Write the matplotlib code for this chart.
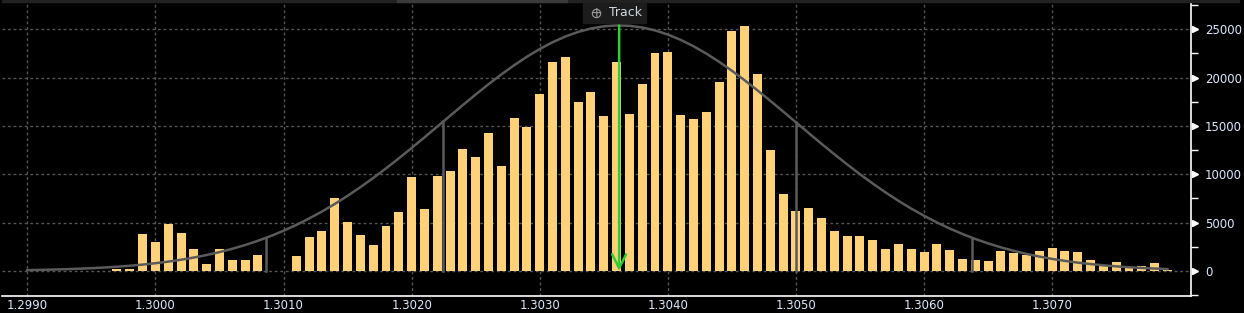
import matplotlib
matplotlib.use("Agg")
import matplotlib.pyplot as plt
import matplotlib.transforms as mtransforms
from matplotlib.patches import Rectangle
import numpy as np

# histogram bins (centres) and counts
bin_centers = np.round(np.arange(1.2990, 1.30795, 0.0001), 4)
counts = [
    50, 50, 40, 50, 50, 50, 50, 200, 200, 3830,
    3000, 4860, 3930, 2280, 725, 2280, 1140, 1140, 1660, 30,
    30, 1550, 3520, 4140, 7550, 5070, 3720, 2690, 4650, 6100,
    9720, 6410, 9820, 10340, 12620, 11790, 14270, 10860, 15820, 14890,
    18300, 21610, 22130, 17480, 18510, 16030, 21610, 16240, 19340, 22540,
    22650, 16130, 15720, 16440, 19540, 24820, 25340, 20370, 12510, 7960,
    6200, 6510, 5480, 4140, 3620, 3620, 3210, 2280, 2790, 2280,
    1970, 2790, 2170, 1240, 1140, 1035, 2070, 1860, 1660, 2070,
    2380, 2070, 1970, 1140, 600, 930, 450, 520, 830, 100,
]

# fitted normal overlay
fit_mean = 1.30362
fit_sigma = 0.0013775
fit_peak = 25400
sigma_marks = [-2, -1, 1, 2]

x_ticks = [1.2990, 1.3000, 1.3010, 1.3020, 1.3030, 1.3040, 1.3050, 1.3060, 1.3070]
y_ticks = [0, 5000, 10000, 15000, 20000, 25000]

bar_color = "#ffd27a"
curve_color = "#5a5a5a"
grid_color = "#555555"
label_color = "#dce8ff"


def fit_curve(x):
    return fit_peak * np.exp(-0.5 * ((np.asarray(x) - fit_mean) / fit_sigma) ** 2)


fig = plt.figure(figsize=(12.44, 3.13), dpi=100, facecolor="black")
ax = fig.add_axes([2 / 1244, 17 / 313, 1189 / 1244, 294 / 313])
ax.set_facecolor("black")

ax.bar(bin_centers, counts, width=0.00007, color=bar_color, zorder=2)

ax.plot(bin_centers, fit_curve(bin_centers), color=curve_color, lw=1.8, zorder=3)
for k in sigma_marks:
    xs = fit_mean + k * fit_sigma
    ax.plot([xs, xs], [0, fit_curve(xs)], color=curve_color, lw=1.8, zorder=3)

ax.annotate("", xy=(fit_mean, 0), xytext=(fit_mean, fit_peak),
            arrowprops=dict(arrowstyle="->,head_length=1.0,head_width=0.5",
                            color="#33cc33", lw=1.8, shrinkA=0, shrinkB=0),
            zorder=4)

ax.set_xlim(1.2988025, 1.308084)
ax.set_ylim(-2585, 27818)

ax.set_xticks(x_ticks)
ax.set_xticklabels([f"{t:.4f}" for t in x_ticks])
ax.set_yticks(y_ticks)
ax.set_yticklabels([str(t) for t in y_ticks])
ax.set_yticks(np.arange(-2500, 27600, 2500), minor=True)
ax.yaxis.tick_right()

ax.grid(True, which="major", color=grid_color, linestyle=(0, (2, 2)), lw=1, zorder=1)

for side in ["left", "top"]:
    ax.spines[side].set_visible(False)
ax.spines["right"].set_color("white")
ax.spines["bottom"].set_color("white")
ax.spines["right"].set_linewidth(1.2)
ax.spines["bottom"].set_linewidth(1.2)

ax.tick_params(axis="x", length=0, pad=2, colors=label_color, labelsize=8.5)
ax.tick_params(axis="y", which="major", length=0, pad=10, colors=label_color, labelsize=8.5)
ax.tick_params(axis="y", which="minor", length=5, width=1, color="white")

# triangular markers at the major y ticks
trans = mtransforms.blended_transform_factory(ax.transAxes, ax.transData)
ax.plot([1.003] * len(y_ticks), y_ticks, marker=">", ms=5, color="white",
        ls="none", transform=trans, clip_on=False, zorder=5)

# top frame strip
fig.patches.append(Rectangle((2 / 1244, 1 - 2 / 313), 1237 / 1244, 2 / 313,
                             transform=fig.transFigure, color="#222222"))
fig.patches.append(Rectangle((397 / 1244, 1 - 2 / 313), 170 / 1244, 2 / 313,
                             transform=fig.transFigure, color="#3a3a3a"))

# "Track" badge
fig.patches.append(Rectangle((583 / 1244, 1 - 23 / 313), 63 / 1244, 20 / 313,
                             transform=fig.transFigure, color="#1c1c1c", zorder=6))
fig.text(596 / 1244, 1 - 13 / 313, "+", color="#9a9a9a", fontsize=10,
         ha="center", va="center", zorder=7)
fig.lines.append(plt.Line2D([596 / 1244], [1 - 12.5 / 313], marker="o", ms=6,
                            mfc="none", mec="#9a9a9a", mew=0.8,
                            transform=fig.transFigure, zorder=7))
fig.text(609 / 1244, 1 - 12.5 / 313, "Track", color="#d0d8e0", fontsize=9,
         ha="left", va="center", zorder=7)

fig.savefig("out.png", dpi=100, facecolor="black")
